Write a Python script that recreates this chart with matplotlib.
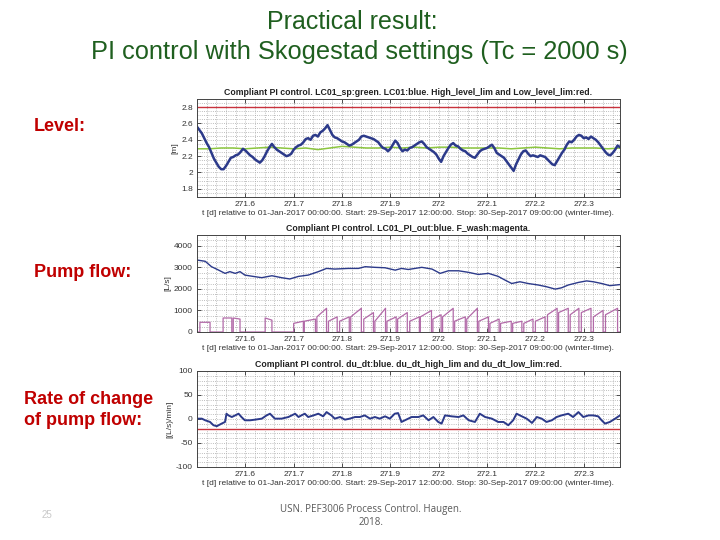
import numpy as np
import matplotlib
matplotlib.use("Agg")
import matplotlib.pyplot as plt
from matplotlib.ticker import MultipleLocator, FormatStrFormatter

plt.rcParams['font.family'] = ['Liberation Sans', 'DejaVu Sans']

# time axis (days relative to 01-Jan-2017), start 29-Sep 12:00, stop 30-Sep 09:00
t_start, t_stop = 271.5, 272.375

# level LC01 [m], one sample every 0.005 d
level = [2.56, 2.52, 2.48, 2.42, 2.36, 2.31, 2.24, 2.17, 2.12, 2.07,
         2.04, 2.04, 2.08, 2.13, 2.18, 2.19, 2.21, 2.22, 2.25, 2.29,
         2.27, 2.24, 2.21, 2.19, 2.16, 2.14, 2.12, 2.15, 2.20, 2.26,
         2.31, 2.35, 2.31, 2.28, 2.26, 2.24, 2.22, 2.20, 2.21, 2.23,
         2.28, 2.31, 2.33, 2.34, 2.37, 2.41, 2.42, 2.40, 2.45, 2.46,
         2.44, 2.49, 2.51, 2.54, 2.58, 2.52, 2.46, 2.43, 2.42, 2.40,
         2.38, 2.37, 2.35, 2.33, 2.34, 2.36, 2.38, 2.40, 2.44, 2.45,
         2.44, 2.43, 2.42, 2.41, 2.39, 2.37, 2.33, 2.30, 2.29, 2.26,
         2.29, 2.34, 2.39, 2.36, 2.30, 2.26, 2.28, 2.27, 2.30, 2.31,
         2.33, 2.35, 2.37, 2.38, 2.35, 2.31, 2.29, 2.27, 2.25, 2.22,
         2.17, 2.13, 2.20, 2.25, 2.30, 2.34, 2.36, 2.33, 2.32, 2.29,
         2.27, 2.26, 2.23, 2.21, 2.19, 2.18, 2.22, 2.26, 2.28, 2.29,
         2.30, 2.32, 2.34, 2.30, 2.24, 2.22, 2.20, 2.18, 2.14, 2.10,
         2.06, 2.02, 2.10, 2.16, 2.22, 2.26, 2.27, 2.23, 2.20, 2.21,
         2.20, 2.19, 2.21, 2.20, 2.19, 2.16, 2.13, 2.10, 2.09, 2.14,
         2.19, 2.24, 2.28, 2.34, 2.38, 2.37, 2.40, 2.44, 2.46, 2.45,
         2.42, 2.43, 2.41, 2.44, 2.42, 2.40, 2.37, 2.33, 2.29, 2.25,
         2.22, 2.21, 2.24, 2.28, 2.33, 2.31]
t_level = np.linspace(t_start, t_stop, len(level))

# level setpoint LC01_sp [m], every 0.025 d
level_sp = [2.29, 2.29, 2.30, 2.30, 2.29, 2.30, 2.31, 2.30, 2.29, 2.30,
            2.28, 2.30, 2.32, 2.31, 2.30, 2.30, 2.31, 2.30, 2.31, 2.30,
            2.31, 2.31, 2.30, 2.30, 2.30, 2.30, 2.29, 2.30, 2.31, 2.30,
            2.29, 2.30, 2.30, 2.30, 2.29, 2.30]
t_sp = np.linspace(t_start, t_stop, len(level_sp))
level_high_lim = 2.8

# pump flow LC01_PI_out [L/s]
t_flow = [271.500, 271.517, 271.530, 271.544, 271.558, 271.568, 271.579, 271.589,
          271.599, 271.616, 271.634, 271.655, 271.675, 271.692, 271.710, 271.730,
          271.751, 271.768, 271.785, 271.813, 271.834, 271.848, 271.868, 271.889,
          271.910, 271.923, 271.937, 271.951, 271.965, 271.986, 272.003, 272.020,
          272.041, 272.061, 272.082, 272.103, 272.123, 272.137, 272.151, 272.168,
          272.185, 272.206, 272.223, 272.241, 272.254, 272.268, 272.289, 272.306,
          272.320, 272.337, 272.354, 272.375]
flow = [3340, 3280, 3030, 2880, 2720, 2800, 2720, 2800,
        2640, 2580, 2520, 2610, 2520, 2460, 2580, 2640,
        2800, 2950, 2920, 2950, 2950, 3030, 3000, 2980,
        2870, 2950, 2900, 2950, 3000, 2920, 2720, 2840,
        2840, 2770, 2670, 2720, 2580, 2410, 2250, 2330,
        2250, 2180, 2100, 1990, 2050, 2180, 2300, 2370,
        2330, 2250, 2150, 2200]

# wash flow F_wash [L/s]: pulses (on, off, level at start, level at end)
wash_on = [271.506, 271.554, 271.575, 271.641, 271.700, 271.722, 271.748, 271.772,
           271.795, 271.818, 271.845, 271.868, 271.893, 271.915, 271.940, 271.962,
           271.988, 272.008, 272.033, 272.058, 272.083, 272.106, 272.128, 272.153,
           272.176, 272.200, 272.225, 272.248, 272.272, 272.295, 272.320, 272.345]
wash_off = [271.527, 271.572, 271.589, 271.655, 271.720, 271.745, 271.768, 271.790,
            271.815, 271.840, 271.865, 271.890, 271.912, 271.935, 271.960, 271.985,
            272.005, 272.030, 272.055, 272.080, 272.103, 272.125, 272.150, 272.172,
            272.195, 272.220, 272.245, 272.268, 272.290, 272.315, 272.340, 272.370]
wash_lo = [450, 650, 650, 650, 400, 500, 700, 500, 500, 700, 600, 500, 500, 600, 500, 700,
           600, 700, 500, 600, 500, 400, 400, 400, 400, 500, 800, 900, 800, 900, 700, 800]
wash_hi = [450, 650, 600, 550, 500, 600, 1100, 700, 700, 1100, 900, 1100, 700, 900, 700, 1000,
           800, 1100, 700, 1100, 700, 600, 500, 500, 600, 700, 1100, 1100, 1100, 1100, 1000, 1100]

# du/dt [(L/s)/min]
t_dudt = [271.500, 271.510, 271.517, 271.527, 271.534, 271.541, 271.551, 271.558,
          271.561, 271.565, 271.572, 271.579, 271.586, 271.592, 271.599, 271.610,
          271.620, 271.634, 271.644, 271.651, 271.661, 271.675, 271.689, 271.696,
          271.703, 271.710, 271.716, 271.723, 271.730, 271.741, 271.751, 271.761,
          271.768, 271.778, 271.785, 271.796, 271.806, 271.816, 271.827, 271.837,
          271.847, 271.858, 271.868, 271.878, 271.889, 271.899, 271.909, 271.916,
          271.923, 271.930, 271.944, 271.958, 271.968, 271.979, 271.989, 271.999,
          272.006, 272.013, 272.027, 272.041, 272.051, 272.062, 272.075, 272.085,
          272.096, 272.110, 272.123, 272.134, 272.144, 272.154, 272.161, 272.172,
          272.182, 272.193, 272.203, 272.213, 272.223, 272.234, 272.244, 272.254,
          272.268, 272.278, 272.289, 272.299, 272.310, 272.320, 272.330, 272.337,
          272.344, 272.354, 272.365, 272.375]
dudt = [0.7, 0.7, -2.7, -6.2, -13, -15, -9.6, -6.2,
        11, 7.5, 4.1, 7.5, 11, 4.1, -2.7, -2.7,
        -1.4, 0.7, 7.5, 11, 0.7, 0.7, 4.1, 7.5,
        11, 4.1, 7.5, 11, 4.1, 7.5, 11, 5.5,
        14.4, 7.5, 0.7, 4.1, -1.4, 0.7, 4.1, 4.1,
        7.5, 0.7, 4.1, 0.7, 5.5, 0.7, 11, 12.3,
        -6.2, -2.7, 4.1, 4.1, 7.5, -2.7, 4.1, -6.2,
        -9.6, 7.5, 5.5, 4.1, 7.5, -2.7, -6.2, 11,
        4.1, 0.7, -6.2, -6.2, -13, -2.7, 11, 5.5,
        0.7, -8.2, 4.1, 0.7, -6.2, -2.7, 4.1, 7.5,
        11, 4.1, 14.4, 4.1, 7.5, 7.5, 5.5, -2.7,
        -9.6, -6.2, 0.7, 7.5]
dudt_low_lim = -20

xticks = [271.6, 271.7, 271.8, 271.9, 272.0, 272.1, 272.2, 272.3]
xlabel = ("t [d] relative to 01-Jan-2017 00:00:00. Start: 29-Sep-2017 12:00:00. "
          "Stop: 30-Sep-2017 09:00:00 (winter-time).")

blue = '#2c3a8a'
green = '#8cc63f'
red = '#c8323c'
magenta = '#b26aa8'


def style_axes(ax, title, ylabel, ylim, ymajor, yminor):
    ax.set_xlim(t_start, t_stop)
    ax.set_ylim(*ylim)
    ax.set_xticks(xticks)
    ax.xaxis.set_major_formatter(FormatStrFormatter('%g'))
    ax.xaxis.set_minor_locator(MultipleLocator(0.02))
    ax.yaxis.set_major_locator(MultipleLocator(ymajor))
    ax.yaxis.set_minor_locator(MultipleLocator(yminor))
    ax.yaxis.set_major_formatter(FormatStrFormatter('%g'))
    ax.grid(which='both', linestyle=':', color='#a8a8a8', linewidth=0.6)
    ax.tick_params(which='major', direction='in', top=True, right=True,
                   length=3, width=0.6, labelsize=6, pad=3, colors='#333333')
    ax.tick_params(which='minor', length=0)
    for s in ax.spines.values():
        s.set_color('#444444')
        s.set_linewidth(0.7)
    ax.set_title(title, fontsize=6.3, fontweight='bold', pad=3, color='#222222')
    ax.set_ylabel(ylabel, fontsize=6, labelpad=2, color='#333333')
    ax.set_xlabel(xlabel, fontsize=6.0, labelpad=1, color='#333333')
    ax.set_axisbelow(True)


fig = plt.figure(figsize=(7.2, 5.4), dpi=100)

# level
ax1 = fig.add_axes([0.2736, 0.6352, 0.5875, 0.1815])
ax1.axhline(level_high_lim, color=red, linewidth=1.0)
ax1.plot(t_sp, level_sp, color=green, linewidth=1.1)
ax1.plot(t_level, level, color=blue, linewidth=1.8)
style_axes(ax1, "Compliant PI control. LC01_sp:green. LC01:blue. High_level_lim and Low_level_lim:red.",
           "[m]", (1.7, 2.9), 0.2, 0.05)

# pump flow and wash flow
ax2 = fig.add_axes([0.2736, 0.3852, 0.5875, 0.1796])
ax2.plot(t_flow, flow, color=blue, linewidth=1.0)
wt, wv = [t_start], [0]
for on, off, lo, hi in zip(wash_on, wash_off, wash_lo, wash_hi):
    wt += [on, on, off, off]
    wv += [0, lo, hi, 0]
wt.append(t_stop)
wv.append(0)
ax2.plot(wt, wv, color=magenta, linewidth=0.9)
style_axes(ax2, "Compliant PI control. LC01_PI_out:blue. F_wash:magenta.",
           "[L/s]", (0, 4500), 1000, 250)

# rate of change
ax3 = fig.add_axes([0.2736, 0.1352, 0.5875, 0.1778])
ax3.axhline(dudt_low_lim, color=red, linewidth=1.0)
ax3.plot(t_dudt, dudt, color=blue, linewidth=1.4)
style_axes(ax3, "Compliant PI control. du_dt:blue. du_dt_high_lim and du_dt_low_lim:red.",
           "[(L/s)/min]", (-100, 100), 50, 10)

# slide text
title_green = '#1f5f1f'
fig.text(0.49, 0.959, "Practical result:", ha='center', va='center',
         fontsize=18, color=title_green)
fig.text(0.499, 0.904, "PI control with Skogestad settings (Tc = 2000 s)", ha='center',
         va='center', fontsize=18.3, color=title_green)

label_red = '#c00000'
fig.text(0.047, 0.765, "Level:", ha='left', va='center', fontsize=13,
         fontweight='bold', color=label_red)
fig.text(0.047, 0.496, "Pump flow:", ha='left', va='center', fontsize=13,
         fontweight='bold', color=label_red)
fig.text(0.033, 0.241, "Rate of change\nof pump flow:", ha='left', va='center',
         fontsize=13, fontweight='bold', color=label_red, linespacing=1.3)

fig.text(0.065, 0.046, "25", ha='center', va='center', fontsize=7, color='#c8c8c8')
fig.text(0.515, 0.044, "USN. PEF3006 Process Control. Haugen.\n2018.", ha='center',
         va='center', fontsize=7, color='#595959', family='Open Sans', linespacing=1.3)

fig.savefig("out.png", dpi=100)
